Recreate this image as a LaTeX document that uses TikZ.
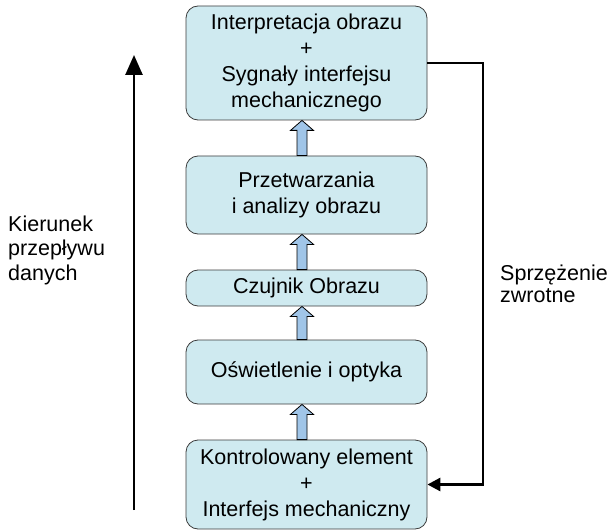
\documentclass[tikz,border=0pt]{standalone}
\usepackage{fontspec}
\setmainfont{Liberation Sans}
\usetikzlibrary{calc,arrows.meta}
\definecolor{boxfill}{RGB}{207,234,240}
\definecolor{arrfill}{RGB}{160,197,232}
\definecolor{boxline}{RGB}{60,60,60}
\newcommand{\blkarrow}[2]{%
  \draw[blk] let \p1=(#1.south), \p2=(#2.north) in
    (\x1-4.5pt,\y1) -- (\x1+7pt,\y1-10pt) -- (\x1+0.5pt,\y1-10pt) -- (\x1+0.5pt,\y2)
    -- (\x1-9.5pt,\y2) -- (\x1-9.5pt,\y1-10pt) -- (\x1-16pt,\y1-10pt) -- cycle;}
\begin{document}
\begin{tikzpicture}[x=1pt,y=-1pt,
  box/.style={draw=boxline, line width=0.8pt, fill=boxfill, rounded corners=12pt,
    minimum width=241pt, inner sep=0pt, align=center,
    font=\fontsize{21.5}{26}\selectfont},
  blk/.style={draw=black, line width=0.8pt, fill=arrfill, line join=miter},
  side/.style={anchor=west, align=left, inner sep=0pt},
  fb/.style={line width=2.8pt, line join=miter},
]
\useasboundingbox (0,0) rectangle (613,532);
\node[box, minimum height=114pt] (b1) at (306.5,63) {Interpretacja obrazu\\+\\Sygnały interfejsu\\mechanicznego};
\node[box, minimum height=78pt] (b2) at (306.5,195) {Przetwarzania\\ i analizy obrazu};
\node[box, minimum height=36pt] (b3) at (306.5,288) {Czujnik Obrazu};
\node[box, minimum height=64pt] (b4) at (306.5,372) {Oświetlenie i optyka};
\node[box, minimum height=89pt] (b5) at (306.5,484.5) {Kontrolowany element\\+\\Interfejs mechaniczny};
\blkarrow{b1}{b2}
\blkarrow{b2}{b3}
\blkarrow{b3}{b4}
\blkarrow{b4}{b5}
\coordinate (fbc) at (483,63);
\coordinate (fbe) at (b5.east);
\draw[fb, -{Triangle[length=13pt,width=13pt]}] (b1.east) -- (fbc) |- (fbe);
\coordinate (la) at (134,510);
\coordinate (lb) at (134,55);
\draw[line width=2.6pt, -{Triangle[length=20pt,width=17pt]}] (la) -- (lb);
\node[side, font=\fontsize{21.5}{24.5}\selectfont] (lt) at (8,250) {Kierunek\\przepływu\\danych};
\node[side, font=\fontsize{21.5}{22.5}\selectfont] (rt) at (500,284) {Sprzężenie\\zwrotne};
\end{tikzpicture}
\end{document}
